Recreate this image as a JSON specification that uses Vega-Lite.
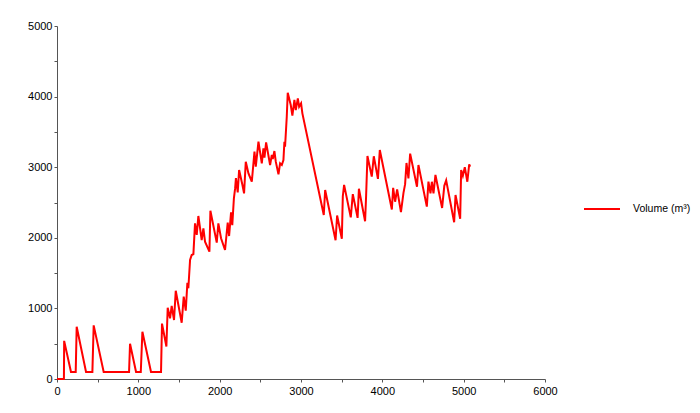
{
  "$schema": "https://vega.github.io/schema/vega-lite/v6.json",
  "width": 488,
  "height": 353,
  "autosize": {"type": "none"},
  "padding": {"left": 57, "top": 26, "right": 155, "bottom": 34},
  "background": "white",
  "config": {
    "view": {"stroke": null},
    "font": "Liberation Sans",
    "axis": {
      "domainColor": "#555555",
      "tickColor": "#555555",
      "labelColor": "#000000",
      "labelFont": "Liberation Sans",
      "labelFontSize": 11,
      "grid": false,
      "tickSize": 3,
      "title": null
    }
  },
  "data": {
    "values": [
      {"x": 0, "v": 0}, {"x": 85, "v": 0}, {"x": 88, "v": 540}, {"x": 172, "v": 100}, {"x": 230, "v": 100},
      {"x": 242, "v": 740}, {"x": 357, "v": 100}, {"x": 435, "v": 100}, {"x": 451, "v": 760}, {"x": 574, "v": 100},
      {"x": 886, "v": 100}, {"x": 898, "v": 500}, {"x": 972, "v": 100}, {"x": 1030, "v": 100}, {"x": 1050, "v": 670},
      {"x": 1156, "v": 100}, {"x": 1279, "v": 100}, {"x": 1291, "v": 785}, {"x": 1345, "v": 460}, {"x": 1361, "v": 1010},
      {"x": 1390, "v": 860}, {"x": 1410, "v": 1034}, {"x": 1439, "v": 836}, {"x": 1460, "v": 1250}, {"x": 1533, "v": 797},
      {"x": 1558, "v": 1166}, {"x": 1583, "v": 967}, {"x": 1603, "v": 1364}, {"x": 1615, "v": 1285}, {"x": 1636, "v": 1686},
      {"x": 1656, "v": 1756}, {"x": 1677, "v": 1770}, {"x": 1697, "v": 2205}, {"x": 1718, "v": 2040}, {"x": 1738, "v": 2309},
      {"x": 1779, "v": 1969}, {"x": 1800, "v": 2134}, {"x": 1820, "v": 1945}, {"x": 1874, "v": 1803}, {"x": 1886, "v": 2384},
      {"x": 1964, "v": 1931}, {"x": 1984, "v": 2205}, {"x": 2017, "v": 1993}, {"x": 2066, "v": 1827}, {"x": 2099, "v": 2214},
      {"x": 2116, "v": 2025}, {"x": 2140, "v": 2360}, {"x": 2155, "v": 2180}, {"x": 2175, "v": 2560}, {"x": 2190, "v": 2700},
      {"x": 2200, "v": 2845}, {"x": 2222, "v": 2644}, {"x": 2239, "v": 2960}, {"x": 2280, "v": 2748}, {"x": 2300, "v": 2630},
      {"x": 2321, "v": 3078}, {"x": 2354, "v": 2912}, {"x": 2395, "v": 2794}, {"x": 2428, "v": 3220}, {"x": 2444, "v": 3007},
      {"x": 2477, "v": 3361}, {"x": 2518, "v": 3054}, {"x": 2538, "v": 3267}, {"x": 2551, "v": 3135}, {"x": 2571, "v": 3352},
      {"x": 2620, "v": 3031}, {"x": 2641, "v": 3173}, {"x": 2653, "v": 3116}, {"x": 2673, "v": 3229}, {"x": 2690, "v": 3078},
      {"x": 2723, "v": 2899}, {"x": 2743, "v": 3054}, {"x": 2764, "v": 3031}, {"x": 2784, "v": 3102}, {"x": 2796, "v": 3361},
      {"x": 2804, "v": 3290}, {"x": 2825, "v": 3715}, {"x": 2837, "v": 4055}, {"x": 2874, "v": 3881}, {"x": 2894, "v": 3730},
      {"x": 2919, "v": 3952}, {"x": 2936, "v": 3810}, {"x": 2961, "v": 3975}, {"x": 2977, "v": 3857}, {"x": 3001, "v": 3905},
      {"x": 3017, "v": 3763}, {"x": 3280, "v": 2323}, {"x": 3297, "v": 2677}, {"x": 3425, "v": 1965}, {"x": 3444, "v": 2316},
      {"x": 3502, "v": 1986}, {"x": 3514, "v": 2587}, {"x": 3530, "v": 2750}, {"x": 3612, "v": 2289}, {"x": 3637, "v": 2618},
      {"x": 3696, "v": 2282}, {"x": 3712, "v": 2695}, {"x": 3788, "v": 2235}, {"x": 3801, "v": 2606}, {"x": 3817, "v": 3159},
      {"x": 3870, "v": 2866}, {"x": 3895, "v": 3155}, {"x": 3946, "v": 2835}, {"x": 3969, "v": 3244}, {"x": 4117, "v": 2400},
      {"x": 4133, "v": 2708}, {"x": 4157, "v": 2511}, {"x": 4182, "v": 2687}, {"x": 4229, "v": 2363}, {"x": 4260, "v": 2637},
      {"x": 4280, "v": 2760}, {"x": 4297, "v": 3060}, {"x": 4321, "v": 2842}, {"x": 4342, "v": 3192}, {"x": 4426, "v": 2724},
      {"x": 4444, "v": 3031}, {"x": 4547, "v": 2441}, {"x": 4567, "v": 2795}, {"x": 4592, "v": 2630}, {"x": 4609, "v": 2794},
      {"x": 4629, "v": 2630}, {"x": 4653, "v": 2890}, {"x": 4735, "v": 2423}, {"x": 4762, "v": 2736}, {"x": 4785, "v": 2814},
      {"x": 4883, "v": 2221}, {"x": 4900, "v": 2606}, {"x": 4957, "v": 2269}, {"x": 4969, "v": 2960}, {"x": 4990, "v": 2878},
      {"x": 5014, "v": 3000}, {"x": 5045, "v": 2794}, {"x": 5068, "v": 3040}, {"x": 5080, "v": 3007}
    ]
  },
  "mark": {"type": "line", "strokeWidth": 2, "interpolate": "linear"},
  "encoding": {
    "x": {
      "field": "x",
      "type": "quantitative",
      "scale": {"domain": [0, 6000], "nice": false, "zero": true},
      "axis": {
        "values": [0, 500, 1000, 1500, 2000, 2500, 3000, 3500, 4000, 4500, 5000, 5500, 6000],
        "labelExpr": "datum.value % 1000 == 0 ? datum.value : ''",
        "labelPadding": 3,
        "labelFlush": false,
        "labelOverlap": false
      }
    },
    "y": {
      "field": "v",
      "type": "quantitative",
      "scale": {"domain": [0, 5000], "nice": false},
      "axis": {
        "values": [0, 500, 1000, 1500, 2000, 2500, 3000, 3500, 4000, 4500, 5000],
        "labelExpr": "datum.value % 1000 == 0 ? datum.value : ''",
        "labelPadding": 2,
        "labelFlush": false,
        "labelOverlap": false
      }
    },
    "color": {
      "datum": "Volume (m³)",
      "type": "nominal",
      "scale": {"range": ["#ff0000"]},
      "legend": {
        "title": null,
        "orient": "none",
        "legendX": 526,
        "legendY": 164,
        "symbolType": "stroke",
        "symbolSize": 1296,
        "symbolStrokeWidth": 2,
        "labelFontSize": 10.5,
        "labelFont": "Liberation Sans",
        "labelColor": "#000000",
        "labelOffset": 12
      }
    }
  }
}
